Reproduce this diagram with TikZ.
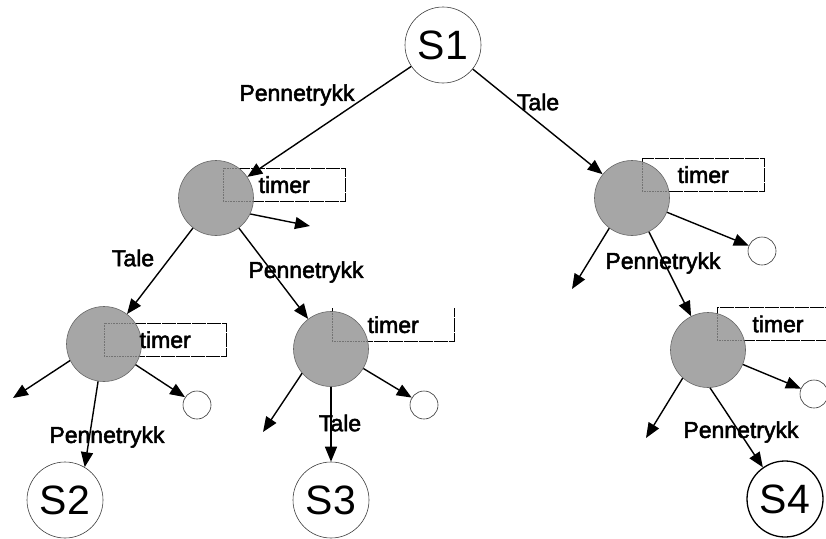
\documentclass[tikz,border=0pt]{standalone}
\usepackage{fontspec}
\setmainfont{Liberation Sans}
\newfontfamily\labelfont[FakeBold=2.2]{Liberation Sans}
\usetikzlibrary{arrows.meta}
\definecolor{waitgray}{HTML}{A6A6A6}
\begin{document}
\begin{tikzpicture}[x=1pt,y=-1pt,
  state/.style={circle, draw=black!75, line width=0.6pt, fill=white,
    minimum size=76pt, inner sep=0pt, font=\fontsize{41}{41}\selectfont},
  final/.style={state, draw=black, line width=1.3pt},
  wait/.style={circle, draw=black!60, line width=0.6pt, fill=waitgray,
    minimum size=75pt, inner sep=0pt},
  sink/.style={circle, draw=black!80, line width=0.6pt, fill=white,
    minimum size=28pt, inner sep=0pt},
  boxframe/.style={minimum width=122pt, minimum height=33pt, inner sep=0pt, anchor=north west},
  boxline/.style={line width=1pt, dash pattern=on 14pt off 1pt},
  hidden/.style={line width=0.6pt, densely dotted, black!55},
  lbl/.style={font=\labelfont\fontsize{23}{23}\selectfont, inner sep=0pt},
  arr/.style={line width=1.4pt, -{Triangle[length=15pt,width=12pt]}},
]
\useasboundingbox (0,0) rectangle (826,538);

% timer frames (drawn first, the waiting circles sit on top of them)
\node[boxframe] (ta)  at (223,168) {};
\node[boxframe] (tc)  at (642,158) {};
\node[boxframe] (tb1) at (104,323) {};
\node[boxframe] (tb2) at (332,308) {};
\node[boxframe] (td)  at (717,307) {};
\draw[boxline] (ta.north west) rectangle (ta.south east);
\draw[boxline] (tc.north west) rectangle (tc.south east);
\draw[boxline] (tb1.north west) rectangle (tb1.south east);
\draw[boxline] (tb2.north west) -- (tb2.south west) -- (tb2.south east) -- (tb2.north east);
\draw[boxline] (td.north east) -- (td.north west) -- (td.south west) -- (td.south east);

% states
\node[state] (s1) at (443,45)  {S1};
\node[state] (s2) at (65,500)  {S2};
\node[state] (s3) at (331,500) {S3};
\node[final] (s4) at (785,499) {S4};

% waiting states
\node[wait] (a)  at (216,198) {};
\node[wait] (c)  at (632,198) {};
\node[wait] (b1) at (104,344) {};
\node[wait] (b2) at (331,349) {};
\node[wait] (d)  at (708,350) {};

% frame corners seen through the circles
\begin{scope}
  \clip (a) circle (37pt);
  \draw[hidden] (ta.north west) rectangle (ta.south east);
\end{scope}
\begin{scope}
  \clip (c) circle (37pt);
  \draw[hidden] (tc.north west) rectangle (tc.south east);
\end{scope}
\begin{scope}
  \clip (b1) circle (37pt);
  \draw[hidden] (tb1.north west) rectangle (tb1.south east);
\end{scope}
\begin{scope}
  \clip (b2) circle (37pt);
  \draw[hidden] (tb2.north west) rectangle (tb2.south east);
\end{scope}
\begin{scope}
  \clip (d) circle (37pt);
  \draw[hidden] (td.north west) rectangle (td.south east);
\end{scope}

% timer texts
\node[lbl] (ta-t)  at (ta.center)  {timer};
\node[lbl] (tc-t)  at (tc.center)  {timer};
\node[lbl] (tb1-t) at (tb1.center) {timer};
\node[lbl] (tb2-t) at (tb2.center) {timer};
\node[lbl] (td-t)  at (778,324)    {timer};

% idle sinks
\node[sink] (xb1) at (197,405) {};
\node[sink] (xb2) at (424,405) {};
\node[sink] (xc)  at (762,251) {};
\node[sink] (xd)  at (814,394) {};

% open ends
\coordinate (oa)  at (310,226);
\coordinate (ob1) at (13,398);
\coordinate (ob2) at (263,432);
\coordinate (oc)  at (572,289);
\coordinate (od)  at (646,438);

% transitions
\draw[arr] (s1) -- (a);
\draw[arr] (s1) -- (c);
\draw[arr] (a) -- (b1);
\draw[arr] (a) -- (b2);
\draw[arr] (a.335) -- (oa);
\draw[arr] (c) -- (d);
\draw[arr] (c.233) -- (oc);
\draw[arr] (c) -- (xc);
\draw[arr] (b1.206) -- (ob1);
\draw[arr] (b1) -- (xb1);
\draw[arr] (b1.261) -- (s2.59);
\draw[arr] (b2.220) -- (ob2);
\draw[arr] (b2) -- (xb2);
\draw[arr] (b2) -- (s3);
\draw[arr] (d.228) -- (od);
\draw[arr] (d) -- (xd);
\draw[arr] (d.273) -- (s4.125);

% labels
\node[lbl] (l1) at (297,95)  {Pennetrykk};
\node[lbl] (l2) at (538,102) {Tale};
\node[lbl] (l3) at (133,258) {Tale};
\node[lbl] (l4) at (306,272) {Pennetrykk};
\node[lbl] (l5) at (663,263) {Pennetrykk};
\node[lbl] (l6) at (107,437) {Pennetrykk};
\node[lbl] (l7) at (340,423) {Tale};
\node[lbl] (l8) at (741,432) {Pennetrykk};
\end{tikzpicture}
\end{document}
